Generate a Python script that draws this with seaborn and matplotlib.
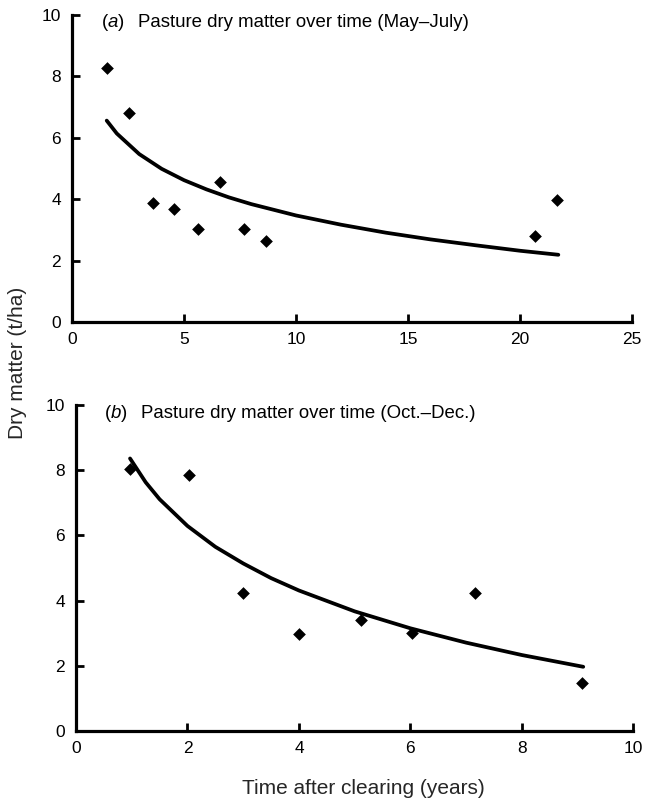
import matplotlib
matplotlib.use("Agg")
import matplotlib.pyplot as plt
import seaborn as sns
import pandas as pd

# ---- data ----
a_years = [1.55, 2.56, 3.6, 4.54, 5.61, 6.61, 7.69, 8.65, 20.66, 21.64]
a_dm = [8.28, 6.80, 3.89, 3.67, 3.04, 4.56, 3.04, 2.65, 2.80, 3.97]
a_curve_x = [1.55, 2, 3, 4, 5, 6, 7, 8, 10, 12, 14, 16, 18, 20, 21.7]
a_curve_y = [6.56, 6.14, 5.47, 4.99, 4.62, 4.32, 4.06, 3.84, 3.47, 3.17, 2.91, 2.69, 2.50, 2.32, 2.19]

b_years = [0.97, 2.02, 3.0, 4.0, 5.12, 6.03, 7.15, 9.07]
b_dm = [8.03, 7.86, 4.24, 2.98, 3.40, 3.00, 4.24, 1.46]
b_curve_x = [0.97, 1.25, 1.5, 2, 2.5, 3, 3.5, 4, 5, 6, 7, 8, 9.1]
b_curve_y = [8.36, 7.63, 7.11, 6.29, 5.65, 5.14, 4.69, 4.31, 3.67, 3.15, 2.71, 2.33, 1.97]

a_xticks = [0, 5, 10, 15, 20, 25]
b_xticks = [0, 2, 4, 6, 8, 10]
yticks = [0, 2, 4, 6, 8, 10]

title_a = "Pasture dry matter over time (May\u2013July)"
title_b = "Pasture dry matter over time (Oct.\u2013Dec.)"
ylabel = "Dry matter (t/ha)"
xlabel = "Time after clearing (years)"

sns.set_theme(style="white")
plt.rcParams["font.family"] = ["Liberation Sans", "DejaVu Sans"]
plt.rcParams["mathtext.fontset"] = "custom"
plt.rcParams["mathtext.it"] = "Liberation Sans:italic"
plt.rcParams["mathtext.rm"] = "Liberation Sans"

fig = plt.figure(figsize=(6.45, 8.0), dpi=100)
ax1 = fig.add_axes([0.1116, 0.5975, 0.9803 - 0.1116, 0.98125 - 0.5975])
ax2 = fig.add_axes([0.1178, 0.08625, 0.982 - 0.1178, 0.49375 - 0.08625])

df_a = pd.DataFrame({"x": a_years, "y": a_dm})
df_ac = pd.DataFrame({"x": a_curve_x, "y": a_curve_y})
df_b = pd.DataFrame({"x": b_years, "y": b_dm})
df_bc = pd.DataFrame({"x": b_curve_x, "y": b_curve_y})

for ax, df, dfc, xt, xmax, label, title, lx, tx in [
    (ax1, df_a, df_ac, a_xticks, 25, "a", title_a, 0.052, 0.118),
    (ax2, df_b, df_bc, b_xticks, 10, "b", title_b, 0.050, 0.117),
]:
    sns.lineplot(data=dfc, x="x", y="y", ax=ax, color="black", linewidth=2.7, sort=False)
    sns.scatterplot(data=df, x="x", y="y", ax=ax, color="black", marker="D", s=42,
                    edgecolor="black", linewidth=0, zorder=3)
    ax.set_xlim(0, xmax)
    ax.set_ylim(0, 10)
    ax.set_xticks(xt)
    ax.set_yticks(yticks)
    ax.set_xlabel("")
    ax.set_ylabel("")
    for s in ["top", "right"]:
        ax.spines[s].set_visible(False)
    for s in ["left", "bottom"]:
        ax.spines[s].set_linewidth(2.3)
        ax.spines[s].set_color("black")
    ax.tick_params(axis="both", direction="in", length=5.5, width=2.0, color="black",
                   labelsize=12.5, labelcolor="black")
    ax.tick_params(axis="y", pad=8)
    ax.tick_params(axis="x", pad=7)
    ax.tick_params(left=True, bottom=True)
    ax.text(lx, 0.975, "($\\mathit{" + label + "}$)", transform=ax.transAxes,
            ha="left", va="center", fontsize=13.4, color="black")
    ax.text(tx, 0.975, title, transform=ax.transAxes,
            ha="left", va="center", fontsize=13.4, color="black")

fig.text(0.027, 0.546, ylabel, rotation=90, ha="center", va="center", fontsize=15)
fig.text(0.563, 0.015, xlabel, ha="center", va="center", fontsize=15)

fig.savefig("out.png", dpi=100)
